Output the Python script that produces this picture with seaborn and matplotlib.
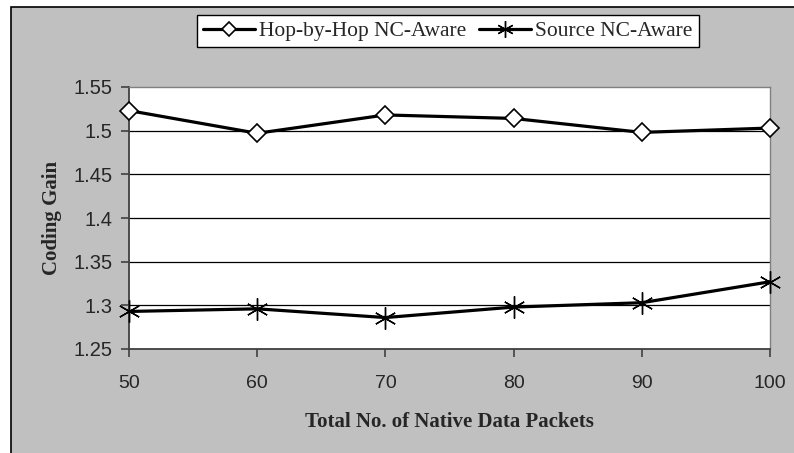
import matplotlib
matplotlib.use("Agg")
import matplotlib.pyplot as plt
import seaborn as sns
import pandas as pd
from matplotlib.patches import Rectangle

packets = [50, 60, 70, 80, 90, 100]
hop_by_hop = [1.523, 1.497, 1.518, 1.514, 1.498, 1.503]
source = [1.293, 1.296, 1.286, 1.298, 1.303, 1.327]
series_names = ["Hop-by-Hop NC-Aware", "Source NC-Aware"]
y_ticks = [1.25, 1.3, 1.35, 1.4, 1.45, 1.5, 1.55]

df = pd.DataFrame({
    "packets": packets * 2,
    "gain": hop_by_hop + source,
    "series": [series_names[0]] * len(packets) + [series_names[1]] * len(packets),
})

sns.set_theme(style="white")
W, H = 794, 453
fig = plt.figure(figsize=(W / 100, H / 100), dpi=100, facecolor="white")

# grey chart area with black frame, kept behind the axes
frame = Rectangle((11 / W, -0.01), 1.0, 1 - 7 / H + 0.01,
                  transform=fig.transFigure, facecolor="#C0C0C0",
                  edgecolor="black", linewidth=1.2, zorder=-10)
fig.add_artist(frame)

ax = fig.add_axes([129 / W, 1 - 349 / H, (770 - 129) / W, (349 - 87) / H])
ax.set_facecolor("white")

markers = {series_names[0]: "D", series_names[1]: (6, 2, 0)}
sizes = {series_names[0]: 9, series_names[1]: 16}
edge_w = {series_names[0]: 1.2, series_names[1]: 1.0}
for name in series_names:
    sub = df[df["series"] == name]
    sns.lineplot(data=sub, x="packets", y="gain", ax=ax, color="black",
                 linewidth=2.3, marker=markers[name], markersize=sizes[name],
                 markerfacecolor="white" if name == series_names[0] else "black",
                 markeredgecolor="black", markeredgewidth=edge_w[name],
                 label=name, clip_on=False, zorder=5)

ax.set_xlim(50, 100)
ax.set_ylim(1.25, 1.55)
ax.set_xticks(packets)
ax.set_yticks(y_ticks)
ax.set_xticklabels([str(p) for p in packets])
ax.set_yticklabels(["1.25", "1.3", "1.35", "1.4", "1.45", "1.5", "1.55"])
for y in y_ticks[1:-1]:
    ax.axhline(y, color="black", linewidth=0.9, zorder=1)

for side in ["top", "right"]:
    ax.spines[side].set_color("#808080")
    ax.spines[side].set_linewidth(1.0)
for side in ["left", "bottom"]:
    ax.spines[side].set_color("#404040")
    ax.spines[side].set_linewidth(1.3)

ax.tick_params(axis="both", direction="out", length=6, width=1.2, color="#404040",
               labelsize=14, left=True, bottom=True)
ax.tick_params(axis="x", pad=13)
ax.tick_params(axis="y", labelsize=14.5, pad=6)
for lab in ax.get_xticklabels() + ax.get_yticklabels():
    lab.set_family("Liberation Sans")

ax.set_xlabel("Total No. of Native Data Packets", fontfamily="Liberation Serif",
              fontweight="bold", fontsize=15, labelpad=14)
ax.set_ylabel("Coding Gain", fontfamily="Liberation Serif",
              fontweight="bold", fontsize=15, labelpad=8)

leg = ax.legend(loc="center", bbox_to_anchor=(448 / W, 1 - 31 / H),
                bbox_transform=fig.transFigure, ncol=2, frameon=True,
                fancybox=False, edgecolor="black", framealpha=1,
                prop={"family": "Liberation Serif", "size": 15.5},
                handlelength=2.4, handletextpad=0.2, columnspacing=0.6,
                borderpad=0.3, borderaxespad=0, markerscale=0.75)
leg.get_frame().set_linewidth(1.0)

fig.savefig("out.png", dpi=100, facecolor="white")
